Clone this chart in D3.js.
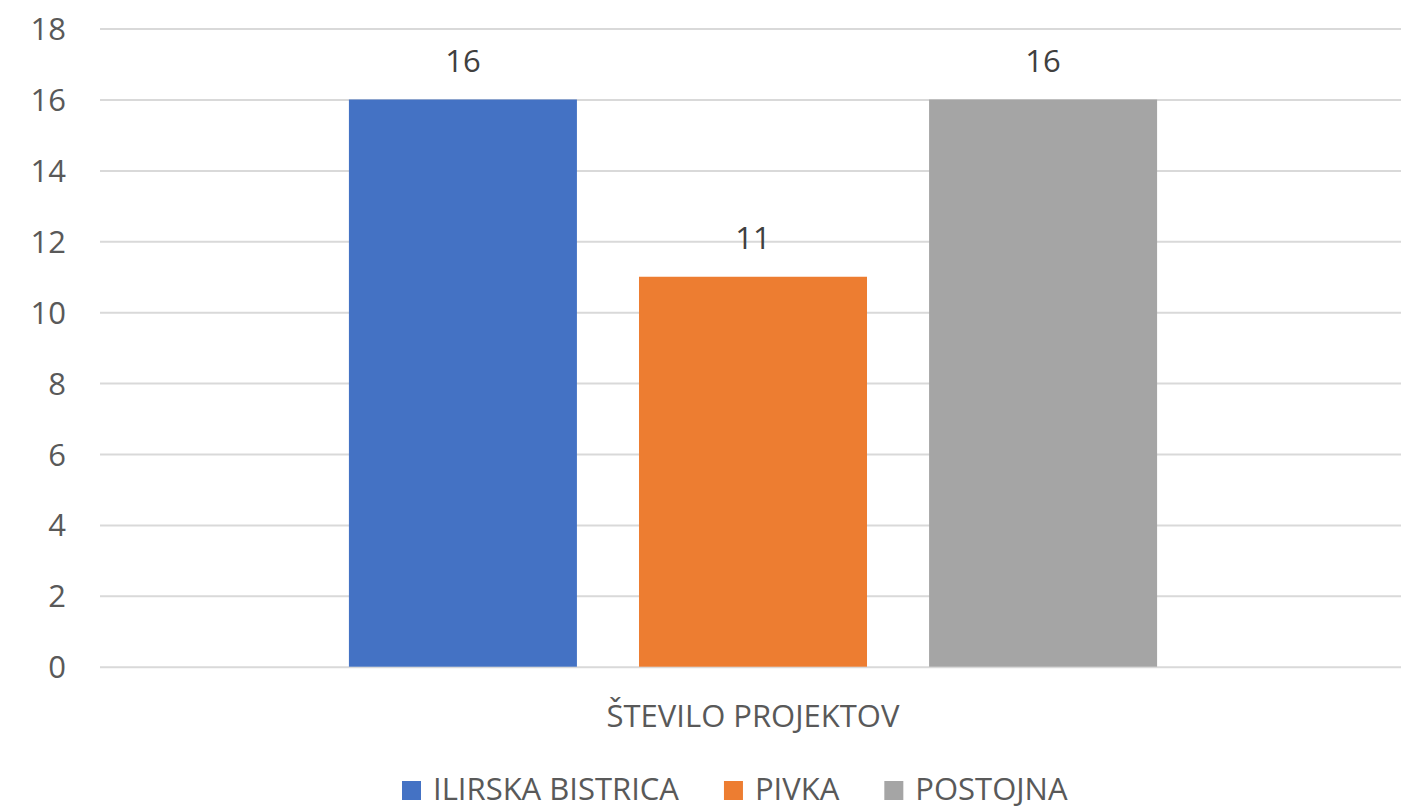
<!DOCTYPE html>
<html><head><meta charset="utf-8">
<script src="https://cdn.jsdelivr.net/npm/d3@7"></script>
<style>body{margin:0;background:#fff}</style>
</head><body>
<svg id="c" width="1401" height="809"></svg>
<script>
// ---- data ----
const categories = ["ŠTEVILO PROJEKTOV"];
const seriesNames = ["ILIRSKA BISTRICA", "PIVKA", "POSTOJNA"];
const seriesValues = [16, 11, 16];
const seriesColors = ["#4472C4", "#ED7D31", "#A5A5A5"];
const yTicks = [0, 2, 4, 6, 8, 10, 12, 14, 16, 18];

// ---- layout ----
const W = 1401, H = 809;
const plotLeft = 100, plotRight = 1406, plotTop = 28.6, plotBottom = 666.7;
const font = "'Open Sans', sans-serif";
const fs = 31;
const textColor = "#595959";

const svg = d3.select("#c");

const y = d3.scaleLinear().domain([0, 18]).range([plotBottom, plotTop]);
const x0 = d3.scaleBand().domain(categories).range([plotLeft, plotRight])
  .paddingInner(0).paddingOuter(0.308);
const x1 = d3.scaleBand().domain(seriesNames).range([0, x0.bandwidth()])
  .paddingInner(0.214).paddingOuter(0);
const color = d3.scaleOrdinal().domain(seriesNames).range(seriesColors);

// gridlines + y labels
const yAxis = d3.axisLeft(y).tickValues(yTicks).tickSize(-(W - plotLeft)).tickPadding(34);
const ga = svg.append("g").attr("transform", `translate(${plotLeft},0)`).call(yAxis);
ga.select(".domain").remove();
ga.selectAll(".tick line").attr("stroke", "#d9d9d9").attr("stroke-width", 2);
ga.selectAll(".tick text").attr("font-family", font).attr("font-size", fs)
  .attr("fill", textColor).attr("dy", null).attr("dominant-baseline", null)
  .attr("y", 11);

// bars
const data = seriesNames.map((s, i) => ({ cat: categories[0], name: s, value: seriesValues[i] }));
const g = svg.append("g");
g.selectAll("rect").data(data).join("rect")
  .attr("x", d => x0(d.cat) + x1(d.name))
  .attr("y", d => y(d.value))
  .attr("width", x1.bandwidth())
  .attr("height", d => y(0) - y(d.value))
  .attr("fill", d => color(d.name));

// value labels
g.selectAll("text.val").data(data).join("text").attr("class", "val")
  .attr("x", d => x0(d.cat) + x1(d.name) + x1.bandwidth() / 2)
  .attr("y", d => y(d.value) - 28)
  .attr("text-anchor", "middle")
  .attr("font-family", font).attr("font-size", fs).attr("fill", "#404040")
  .text(d => d.value);

// category label
svg.selectAll("text.cat").data(categories).join("text").attr("class", "cat")
  .attr("x", d => x0(d) + x0.bandwidth() / 2)
  .attr("y", 727)
  .attr("text-anchor", "middle")
  .attr("font-family", font).attr("font-size", fs).attr("fill", textColor)
  .text(d => d);

// legend
const legend = svg.append("g").attr("transform", "translate(402,0)");
let lx = 0;
seriesNames.forEach((s, i) => {
  const it = legend.append("g").attr("transform", `translate(${lx},0)`);
  it.append("rect").attr("x", 0).attr("y", 781).attr("width", 19).attr("height", 19)
    .attr("fill", color(s));
  const t = it.append("text").attr("x", 31).attr("y", 800)
    .attr("font-family", font).attr("font-size", fs).attr("fill", textColor).text(s);
  lx += 31 + t.node().getComputedTextLength() + 45;
});
</script>
</body></html>
